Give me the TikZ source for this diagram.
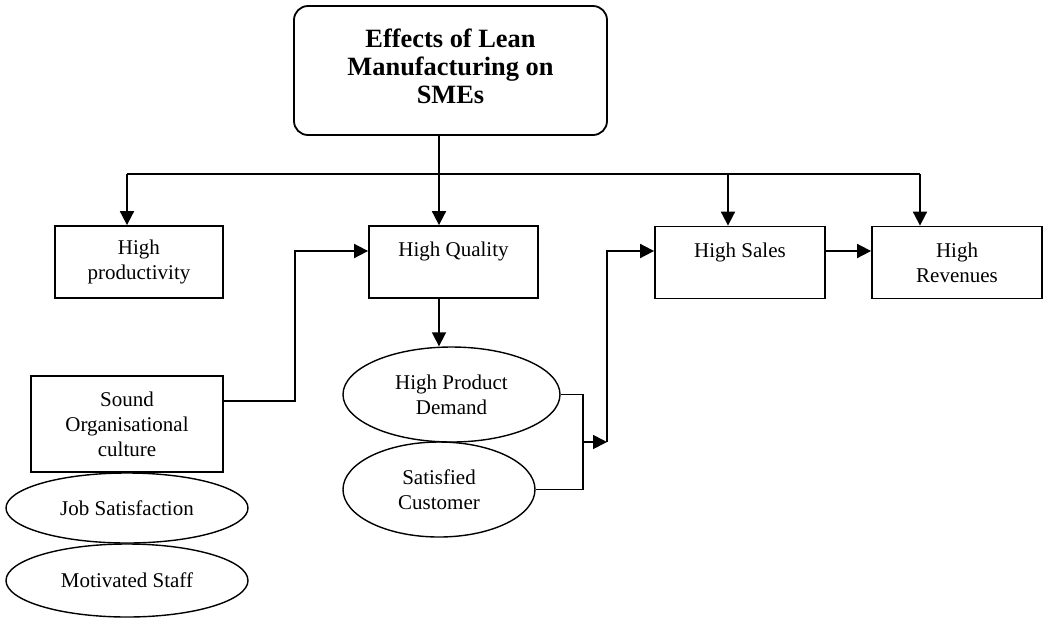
\documentclass[tikz,border=0pt]{standalone}
\usepackage{fontspec}
\setmainfont{Liberation Serif}
\usepackage{tikz}
\usetikzlibrary{arrows.meta, shapes.geometric, positioning}

\begin{document}
\begin{tikzpicture}[x=0.5pt, y=-0.5pt,
			>={Triangle[length=7pt,width=7pt]},   %Voreinstellung für Pfeilspitzen
			box/.style={draw, rectangle, line width=0.9pt, minimum width=84.5pt, minimum height=36pt, inner sep=0pt, align=center},
			oval/.style={draw, ellipse, line width=0.7pt, inner sep=0pt, align=center},
			font=\fontsize{10.5}{12.5}\selectfont]
			\useasboundingbox (0,0) rectangle (1046,618);
			%Oberer Kasten
			\node[draw, rounded corners=7pt, line width=0.9pt, minimum width=156.5pt, minimum height=64.5pt, align=center, font=\fontsize{13.2}{13.9}\selectfont\bfseries] (top) at (450.5,70.5) {Effects of Lean\\Manufacturing on\\SMEs\\[-9.4pt]\mbox{}};
			%Kästen der Wirkungen
			\node[box, minimum width=84pt] (prod) at (139,262) {High\\productivity};
			\node[box] (qual) at (453.5,262) {High Quality\\\mbox{}};
			\node[box, minimum width=85pt] (sales) at (740,262.5) {High Sales\\\mbox{}};
			\node[box, minimum width=85pt] (rev) at (957,262.5) {High\\Revenues};
			\node[box, minimum width=96pt, minimum height=48pt] (sound) at (127,424) {Sound\\Organisational\\culture};
			%Ellipsen
			\node[oval, minimum width=121pt, minimum height=35pt] (job) at (127,508) {Job Satisfaction};
			\node[oval, minimum width=121pt, minimum height=36.5pt] (staff) at (127,580.5) {Motivated Staff};
			\node[oval, minimum width=108.5pt, minimum height=47.5pt] (demand) at (451.5,394.5) {High Product\\Demand};
			\node[oval, minimum width=96pt, minimum height=47.5pt] (cust) at (439,489.5) {Satisfied\\Customer};
			%Hilfspunkte
			\coordinate (bus) at (439,174);
			\coordinate (t1) at (127,174);
			\coordinate (t3) at (728,174);
			\coordinate (t4) at (920,174);
			\coordinate (s1) at (295,401);
			\coordinate (qin) at (295,251);
			\coordinate (m) at (583,442);
			\coordinate (bend) at (607,442);
			\coordinate (sin) at (607,251);
			%Verbindungen zeichnen
			\begin{scope}[line width=0.9pt]
				\draw (bus |- top.south) -- (bus);
				\draw (t1) -- (t4);
				\draw[->] (t1) -- (t1 |- prod.north);
				\draw[->] (bus) -- (bus |- qual.north);
				\draw[->] (t3) -- (t3 |- sales.north);
				\draw[->] (t4) -- (t4 |- rev.north);
				\draw[->] (sound.east |- s1) -- (s1) -- (qin) -- (qin -| qual.west);
				\draw[->] (bus |- qual.south) -- (bus |- demand.north);
				\draw (demand.east) -| (m |- cust.east) -- (cust.east);
				\draw[->] (m) -- (bend);
				\draw[->] (bend) -- (sin) -- (sin -| sales.west);
				\draw[->] (sales.east |- sin) -- (rev.west |- sin);
			\end{scope}
		\end{tikzpicture}
\end{document}
